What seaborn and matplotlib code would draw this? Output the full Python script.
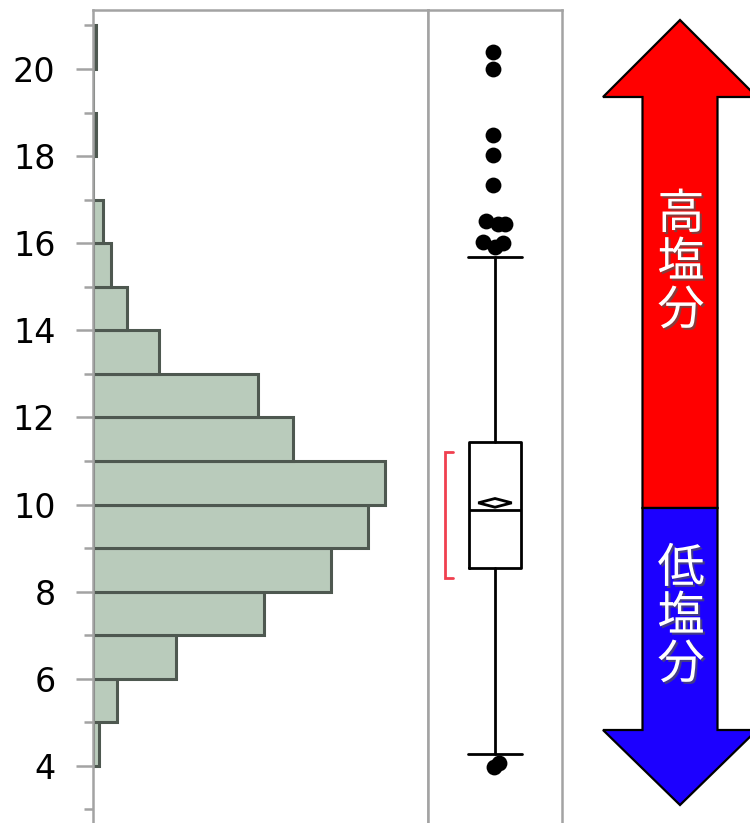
import numpy as np
import pandas as pd
import matplotlib
matplotlib.use("Agg")
import matplotlib.pyplot as plt
import matplotlib.patheffects as pe
from matplotlib.patches import Polygon
import seaborn as sns

# ---- data -------------------------------------------------------------
bin_left = [4, 5, 6, 7, 8, 9, 10, 11, 12, 13, 14, 15, 16, 17, 18, 19, 20]
bin_count = [4, 15, 52, 107, 149, 172, 183, 125, 103, 41, 21, 11, 6, 0, 2, 0, 2]

box_q1 = 8.545
box_median = 9.88
box_q3 = 11.44
whisker_low = 4.275
whisker_high = 15.685
mean_value = 10.04
mean_ci_half = 0.10
shortest_half = [8.31, 11.20]

outliers_high = [20.40, 20.01, 18.49, 18.03, 17.34, 16.51, 16.44, 16.44, 16.04, 15.92, 16.00]
outliers_low = [3.98, 4.07]

y_ticks = [4, 6, 8, 10, 12, 14, 16, 18, 20]
y_minor = [3, 5, 7, 9, 11, 13, 15, 17, 19, 21]
label_high = "高塩分"
label_low = "低塩分"

# ---- figure -----------------------------------------------------------
sns.set_theme(style="white")
plt.rcParams["font.family"] = ["DejaVu Sans"]
W, H = 750, 823
fig = plt.figure(figsize=(W / 100, H / 100), dpi=100)
fig.patch.set_facecolor("white")

spine_col = "#a3a3a3"
top = (H - 10) / H
ylim = (2.69, 21.355)

ax_h = fig.add_axes([93 / W, 0, (428 - 93) / W, top])
ax_b = fig.add_axes([428 / W, 0, (562 - 428) / W, top], sharey=ax_h)

# histogram (horizontal)
df = pd.DataFrame({"center": np.array(bin_left) + 0.5, "n": bin_count})
edges = list(bin_left) + [bin_left[-1] + 1]
sns.histplot(data=df, y="center", weights="n", bins=edges, ax=ax_h,
             color="#b9cbbb", edgecolor="#4e5850", linewidth=2.2, alpha=1.0)
ax_h.set_xlim(0, 209.6)
ax_h.set_ylim(*ylim)
ax_h.set_xlabel("")
ax_h.set_ylabel("")
ax_h.set_xticks([])
ax_h.set_yticks(y_ticks)
ax_h.set_yticks(y_minor, minor=True)
ax_h.set_yticklabels([str(t) for t in y_ticks], fontsize=24, color="black")
ax_h.tick_params(axis="y", which="major", direction="out", length=12, width=1.8,
                 color=spine_col, pad=15, left=True)
ax_h.tick_params(axis="y", which="minor", direction="out", length=6.5, width=1.8,
                 color=spine_col, left=True)
for side in ["left", "top", "right"]:
    ax_h.spines[side].set_visible(True)
    ax_h.spines[side].set_color(spine_col)
    ax_h.spines[side].set_linewidth(1.8)
ax_h.spines["bottom"].set_visible(False)

# box plot panel
stats = [dict(med=box_median, q1=box_q1, q3=box_q3,
              whislo=whisker_low, whishi=whisker_high, fliers=[])]
lw = 2.0
ax_b.bxp(stats, positions=[0.5], widths=0.393, vert=True, patch_artist=False,
         showfliers=False,
         boxprops=dict(color="black", linewidth=lw),
         medianprops=dict(color="black", linewidth=lw),
         whiskerprops=dict(color="black", linewidth=lw),
         capprops=dict(color="black", linewidth=lw),
         capwidths=0.40)

# mean diamond
dx = 0.125
diamond = Polygon([[0.5 - dx, mean_value], [0.5, mean_value + mean_ci_half],
                   [0.5 + dx, mean_value], [0.5, mean_value - mean_ci_half]],
                  closed=True, facecolor="white", edgecolor="black", linewidth=lw, zorder=4)
ax_b.add_patch(diamond)

# shortest-half bracket
bx0, bx1 = 0.127, 0.189
ax_b.plot([bx1, bx0, bx0, bx1],
          [shortest_half[1], shortest_half[1], shortest_half[0], shortest_half[0]],
          color="#f0404f", linewidth=2.0, solid_joinstyle="miter")

# outliers, nudged sideways where they pile up
px = 1 / 134
nudge_high = np.array([-2, -2, -2, -2, -2, -9, 3, 10, -12, 0, 8]) * px
nudge_low = np.array([-1, 4]) * px
pts = pd.DataFrame({
    "x": np.concatenate([0.5 + nudge_high, 0.5 + nudge_low]),
    "y": outliers_high + outliers_low,
})
sns.scatterplot(data=pts, x="x", y="y", ax=ax_b, color="black", s=130,
                edgecolor="black", linewidth=0, zorder=5, legend=False)

ax_b.set_xlim(0, 1)
ax_b.set_ylim(*ylim)
ax_b.set_xlabel("")
ax_b.set_ylabel("")
ax_b.set_xticks([])
ax_b.tick_params(axis="y", which="both", left=False, labelleft=False)
for side in ["left", "top", "right"]:
    ax_b.spines[side].set_visible(True)
    ax_b.spines[side].set_color(spine_col)
    ax_b.spines[side].set_linewidth(1.8)
ax_b.spines["bottom"].set_visible(False)

# ---- double arrow on the right -----------------------------------------
ov = fig.add_axes([0, 0, 1, 1])
ov.set_xlim(0, W)
ov.set_ylim(H, 0)
ov.axis("off")
ov.patch.set_alpha(0)

cx, tip_t, base_t, split, base_b, tip_b = 680, 20, 97, 508, 730, 805
hw, sw = 77, 37.5
red = Polygon([[cx, tip_t], [cx + hw, base_t], [cx + sw, base_t], [cx + sw, split],
               [cx - sw, split], [cx - sw, base_t], [cx - hw, base_t]],
              closed=True, facecolor="#ff0000", edgecolor="black", linewidth=1.6)
blue = Polygon([[cx - sw, split], [cx + sw, split], [cx + sw, base_b], [cx + hw, base_b],
                [cx, tip_b], [cx - hw, base_b], [cx - sw, base_b]],
               closed=True, facecolor="#1c00ff", edgecolor="black", linewidth=1.6)
ov.add_patch(red)
ov.add_patch(blue)

shadow = [pe.SimplePatchShadow(offset=(1.5, -1.5), shadow_rgbFace="#555555", alpha=0.7),
          pe.Normal()]
cjk = ["Noto Sans CJK JP", "DejaVu Sans"]
for i, ch in enumerate(label_high):
    ov.text(cx + 1, 215 + 48 * i, ch, color="white", fontsize=34, family=cjk,
            ha="center", va="center", path_effects=shadow)
for i, ch in enumerate(label_low):
    ov.text(cx + 1, 569 + 48 * i, ch, color="white", fontsize=34, family=cjk,
            ha="center", va="center", path_effects=shadow)

fig.savefig("out.png", dpi=100, facecolor="white")
